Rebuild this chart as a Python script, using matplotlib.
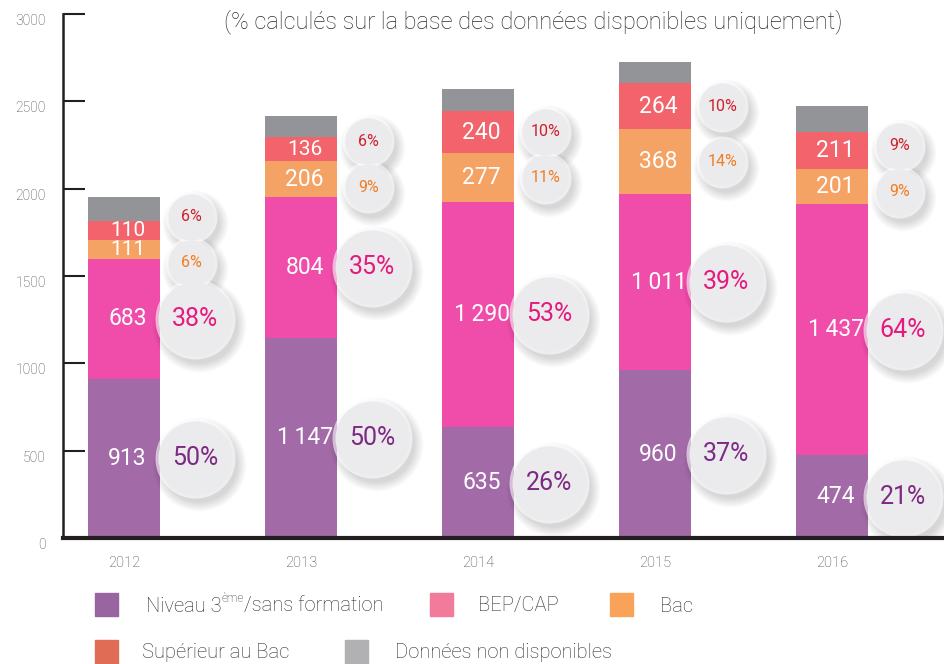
import matplotlib
matplotlib.use('Agg')
import matplotlib.pyplot as plt
import matplotlib.font_manager as fm
from matplotlib.transforms import offset_copy
from matplotlib.patches import Rectangle
import numpy as np

# ---------------- data ----------------
years = ['2012', '2013', '2014', '2015', '2016']
niveau3 = [913, 1147, 635, 960, 474]
bep_cap = [683, 804, 1290, 1011, 1437]
bac = [111, 206, 277, 368, 201]
superieur = [110, 136, 240, 264, 211]
non_dispo = [135, 123, 129, 122, 150]
pct_niveau3 = ['50%', '50%', '26%', '37%', '21%']
pct_bep = ['38%', '35%', '53%', '39%', '64%']
pct_bac = ['6%', '9%', '11%', '14%', '9%']
pct_sup = ['6%', '6%', '10%', '10%', '9%']
series_names = ['Niveau 3', 'BEP/CAP', 'Bac', 'Supérieur au Bac', 'Données non disponibles']
yticks = [0, 500, 1000, 1500, 2000, 2500, 3000]
subtitle = '(% calculés sur la base des données disponibles uniquement)'

# ---------------- styles ----------------
bar_colors = ['#A36AA8', '#F04DAB', '#F5A265', '#F2636B', '#929497']
legend_colors = ['#9965A0', '#F27A9B', '#F9A25A', '#E16C55', '#B1B1B4']
pct_colors = ['#7C2A83', '#E6197E', '#F07D22', '#D0202A']

avail = {f.name for f in fm.fontManager.ttflist}
base = 'Roboto' if 'Roboto' in avail else 'DejaVu Sans'
plt.rcParams['font.family'] = [base, 'DejaVu Sans']

W, H = 944, 664
fig = plt.figure(figsize=(W / 100, H / 100), dpi=100)
ax = fig.add_axes([63 / W, 126 / H, 881 / W, 524 / H])
ax.set_xlim(-0.345, 4.633)
ax.set_ylim(0, 3000)
px_per_unit = 524 / 3000

x = np.arange(len(years))
series = [niveau3, bep_cap, bac, superieur, non_dispo]
bottom = np.zeros(len(years))
bottoms = []
for vals, col in zip(series, bar_colors):
    ax.bar(x, vals, width=0.41, bottom=bottom, color=col, linewidth=0, zorder=2)
    bottoms.append(bottom.copy())
    bottom = bottom + np.array(vals)

# white value labels inside the bars (all but 'non disponibles')
for si in range(4):
    for i in range(len(years)):
        v = series[si][i]
        yc = bottoms[si][i] + v / 2
        lab = f'{v:,}'.replace(',', '\u2009')
        fs = 16.5 if v > 150 else 15
        ax.text(x[i] + 0.02, yc, lab, ha='center', va='center', color='white',
                fontsize=fs, zorder=6)


def bubble(xc, yc, r_px, text, color, fs):
    # soft shadow
    n = 10
    for k in range(n):
        rr = r_px + (n - k) * 1.0
        tr = offset_copy(ax.transData, fig=fig, x=4, y=-6, units='dots')
        ax.scatter([xc], [yc], s=(2 * rr * 0.72) ** 2, color='#000000', alpha=0.014,
                   linewidths=0, transform=tr, zorder=3)
    # faint glow
    ax.scatter([xc], [yc], s=(2 * (r_px + 3) * 0.72) ** 2, color='white', alpha=0.6,
               linewidths=0, zorder=3.5)
    ax.scatter([xc], [yc], s=(2 * r_px * 0.72) ** 2, color='#EBEAED',
               linewidths=0, zorder=4)
    ax.text(xc, yc, text, ha='center', va='center', color=color, fontsize=fs,
            zorder=7)


for i in range(len(years)):
    bx = x[i] + 0.40
    yc0 = bottoms[0][i] + niveau3[i] / 2
    yc1 = bottoms[1][i] + bep_cap[i] / 2
    bubble(bx, yc0, 37, pct_niveau3[i], pct_colors[0], 18)
    bubble(bx, yc1, 37, pct_bep[i], pct_colors[1], 18)
    yb = bottoms[2][i] + bac[i] / 2
    ys = bottoms[3][i] + superieur[i] / 2
    min_sep = 46 / px_per_unit
    if ys - yb < min_sep:
        m = (ys + yb) / 2
        yb, ys = m - min_sep / 2, m + min_sep / 2
    bubble(x[i] + 0.38, yb, 23, pct_bac[i], pct_colors[2], 11.5)
    bubble(x[i] + 0.38, ys, 23, pct_sup[i], pct_colors[3], 11.5)

# axes styling
for s in ['top', 'right']:
    ax.spines[s].set_visible(False)
ax.spines['left'].set_linewidth(1.8)
ax.spines['left'].set_color('#231F20')
ax.spines['bottom'].set_linewidth(3)
ax.spines['bottom'].set_color('#231F20')
ax.spines['bottom'].set_zorder(8)
ax.set_yticks(yticks)
ax.set_yticklabels([])
ax.tick_params(axis='y', direction='in', length=16, width=1.5, color='#231F20')
ylab_tr = offset_copy(ax.get_yaxis_transform(), fig=fig, x=-17, y=-7, units='dots')
for v in yticks:
    ax.text(0, v, str(v), transform=ylab_tr, ha='right', va='center', fontsize=10,
            color='#444444', fontweight='light', clip_on=False)
ax.set_xticks(x)
ax.set_xticklabels(years, fontsize=10.5, color='#444444', fontweight='light')
ax.tick_params(axis='x', length=0, pad=13)

# subtitle
fig.text(533 / W, 1 - 22 / H, subtitle, ha='center', va='center', fontsize=17,
         color='#2E2E2E', fontweight='light')

# legend (manual)
renderer = fig.canvas.get_renderer()


def legend_item(xsq, yc, color, label, xtext, sup=None, rest=None):
    fig.patches.append(Rectangle((xsq / W, 1 - (yc + 11.5) / H), 23 / W, 23 / H,
                                 transform=fig.transFigure, color=color, figure=fig))
    t = fig.text(xtext / W, 1 - (yc + 2) / H, label, ha='left', va='center', fontsize=14.5,
                 color='#2E2E2E', fontweight='light')
    if sup is not None:
        bb = t.get_window_extent(renderer)
        t2 = fig.text(bb.x1 / W, 1 - (yc - 5) / H, sup, ha='left', va='center',
                      fontsize=8.5, color='#2E2E2E', fontweight='light')
        bb2 = t2.get_window_extent(renderer)
        fig.text(bb2.x1 / W, 1 - (yc + 2) / H, rest, ha='left', va='center', fontsize=14.5,
                 color='#2E2E2E', fontweight='light')


legend_item(95, 604, legend_colors[0], series_names[0], 146, 'ème', '/sans formation')
legend_item(430, 604, legend_colors[1], series_names[1], 478)
legend_item(610, 604, legend_colors[2], series_names[2], 660)
legend_item(95, 651, legend_colors[3], series_names[3], 142)
legend_item(345, 651, legend_colors[4], series_names[4], 395)

fig.savefig('out.png', dpi=100)
